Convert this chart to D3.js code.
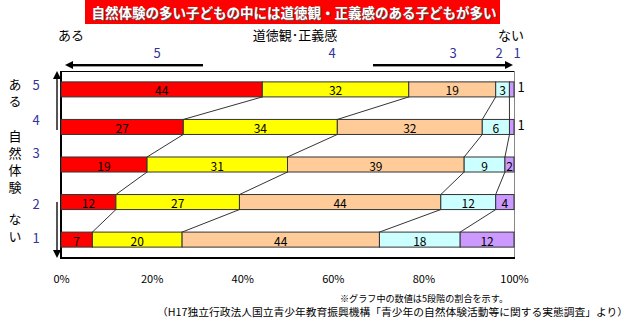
<!DOCTYPE html>
<html lang="ja">
<head>
<meta charset="utf-8">
<script src="https://cdn.jsdelivr.net/npm/d3@7"></script>
<style>
  html, body { margin: 0; padding: 0; background: #fff; }
  svg { display: block; font-family: "Noto Sans CJK JP", "Noto Sans", sans-serif; }
</style>
</head>
<body>
<svg id="chart" width="644" height="329"></svg>
<script>
// 自然体験の段階（5=多い … 1=少ない）ごとの道徳観・正義感の割合（%）
const categories = ["5", "4", "3", "2", "1"];
const levels = ["5", "4", "3", "2", "1"];
const level5 = [44, 27, 19, 12, 7];
const level4 = [32, 34, 31, 27, 20];
const level3 = [19, 32, 39, 44, 44];
const level2 = [3, 6, 9, 12, 18];
const level1 = [1, 1, 2, 4, 12];
const xTicks = [0, 0.2, 0.4, 0.6, 0.8, 1];

const seriesValues = [level5, level4, level3, level2, level1];
const colors = ["#FF0000", "#FFFF00", "#FFCC99", "#CCFFFF", "#CC99FF"];

const rows = categories.map((c, i) => {
  const r = { cat: c };
  levels.forEach((l, j) => { r[l] = seriesValues[j][i]; });
  return r;
});

const stack = d3.stack().keys(levels).offset(d3.stackOffsetExpand);
const series = stack(rows);

const svg = d3.select("#chart");

const x = d3.scaleLinear().domain([0, 1]).range([61, 514]);
const y = d3.scaleBand().domain(categories).range([71, 258])
  .paddingInner(0.6).paddingOuter(0.29);

// タイトル
svg.append("rect").attr("x", 85).attr("y", 0).attr("width", 415).attr("height", 24)
  .attr("fill", "#FF0000");
const titleText = "自然体験の多い子どもの中には道徳観・正義感のある子どもが多い";
svg.append("text").attr("x", 294).attr("y", 18).attr("text-anchor", "middle")
  .attr("font-size", 13.5).attr("font-weight", "bold").attr("fill", "#555")
  .attr("dx", 1).attr("dy", 1).text(titleText);
svg.append("text").attr("x", 294).attr("y", 18).attr("text-anchor", "middle")
  .attr("font-size", 13.5).attr("font-weight", "bold").attr("fill", "#fff")
  .text(titleText);

// 上部の凡例見出し
const head = svg.append("g").attr("font-size", 13).attr("fill", "#000");
head.append("text").attr("x", 58).attr("y", 40).text("ある");
head.append("text").attr("x", 295).attr("y", 40).attr("text-anchor", "middle").text("道徳観･正義感");
head.append("text").attr("x", 498).attr("y", 40).text("ない");

// 道徳観・正義感の段階番号
const levelPos = [157, 332, 453, 499, 517];
svg.append("g").attr("font-size", 13).attr("fill", "#333399").attr("text-anchor", "middle")
  .selectAll("text").data(levels).join("text")
  .attr("x", (d, i) => levelPos[i]).attr("y", 58).text(d => d);

// 横向きの矢印
function hArrow(x1, x2, yy) {
  const dir = Math.sign(x2 - x1);
  svg.append("line").attr("x1", x1).attr("x2", x2 - dir * 7).attr("y1", yy).attr("y2", yy)
    .attr("stroke", "#000").attr("stroke-width", 2);
  svg.append("line").attr("x1", x1).attr("x2", x2 - dir * 7).attr("y1", yy + 1.5).attr("y2", yy + 1.5)
    .attr("stroke", "#999").attr("stroke-width", 1);
  svg.append("path")
    .attr("d", `M${x2},${yy} L${x2 - dir * 8},${yy - 4} L${x2 - dir * 8},${yy + 4} Z`)
    .attr("fill", "#000");
}
hArrow(203, 65, 65);
hArrow(373, 513, 65);

// 縦向きの矢印
function vArrow(y1, y2, xx) {
  const dir = Math.sign(y2 - y1);
  svg.append("line").attr("x1", xx).attr("x2", xx).attr("y1", y1).attr("y2", y2 - dir * 6)
    .attr("stroke", "#555").attr("stroke-width", 2);
  svg.append("path")
    .attr("d", `M${xx},${y2} L${xx - 4},${y2 - dir * 8} L${xx + 4},${y2 - dir * 8} Z`)
    .attr("fill", "#000");
}
vArrow(130, 71, 57);
vArrow(202, 258, 57);

// 縦書きの見出し
const side = svg.append("g").attr("font-size", 13).attr("fill", "#000")
  .style("writing-mode", "vertical-rl").style("letter-spacing", "4px");
[["ある", 78], ["自然体験", 130], ["ない", 213]]
  .forEach(([t, yy]) => side.append("text").attr("x", 15).attr("y", yy).text(t));
const catPos = [90, 125, 158, 209, 243];
svg.append("g").attr("font-size", 13).attr("fill", "#333399").attr("text-anchor", "middle")
  .selectAll("text").data(categories).join("text")
  .attr("x", 36).attr("y", (d, i) => catPos[i]).text(d => d);

// プロット枠
svg.append("line").attr("x1", 61).attr("x2", 514).attr("y1", 71.5).attr("y2", 71.5).attr("stroke", "#000");
svg.append("line").attr("x1", 514.5).attr("x2", 514.5).attr("y1", 71).attr("y2", 258).attr("stroke", "#888");
svg.append("line").attr("x1", 61).attr("x2", 61).attr("y1", 71).attr("y2", 259).attr("stroke", "#000").attr("stroke-width", 2);
svg.append("line").attr("x1", 60).attr("x2", 515).attr("y1", 258).attr("y2", 258).attr("stroke", "#000").attr("stroke-width", 2);

// 区切りをつなぐ線
const links = svg.append("g").attr("stroke", "#000").attr("stroke-width", 0.8);
for (let k = 0; k < series.length - 1; k++) {
  for (let i = 0; i < categories.length - 1; i++) {
    const a = series[k][i][1], b = series[k][i + 1][1];
    links.append("line")
      .attr("x1", x(a)).attr("y1", y(categories[i]) + y.bandwidth())
      .attr("x2", x(b)).attr("y2", y(categories[i + 1]));
  }
}

// 帯グラフ
const bars = svg.append("g");
series.forEach((s, k) => {
  bars.append("g").attr("fill", colors[k])
    .selectAll("rect").data(s).join("rect")
    .attr("x", d => x(d[0]))
    .attr("y", d => y(d.data.cat))
    .attr("width", d => x(d[1]) - x(d[0]))
    .attr("height", y.bandwidth())
    .attr("stroke", "#333").attr("stroke-width", 1);
});

// 数値ラベル
const labels = svg.append("g").attr("font-size", 12).attr("fill", "#000").attr("text-anchor", "middle");
series.forEach((s, k) => {
  s.forEach((d, i) => {
    const v = seriesValues[k][i];
    const w = x(d[1]) - x(d[0]);
    const yy = y(d.data.cat) + y.bandwidth() / 2 + 6;
    if (w < 6) {
      labels.append("text").attr("x", x(1) + 7).attr("y", yy - 3).attr("font-size", 13).text(v);
    } else {
      labels.append("text").attr("x", (x(d[0]) + x(d[1])) / 2).attr("y", yy).text(v);
    }
  });
});

// 横軸の目盛り
const xAxis = svg.append("g").attr("transform", "translate(0,272)")
  .call(d3.axisBottom(x).tickValues(xTicks).tickSize(0).tickFormat(d3.format(".0%")));
xAxis.select(".domain").remove();
xAxis.selectAll("text").attr("font-size", 11).attr("fill", "#000")
  .attr("font-family", "\"Noto Sans CJK JP\", sans-serif");

// 注記
svg.append("text").attr("x", 340).attr("y", 302).attr("font-size", 9.5)
  .attr("textLength", 168).attr("lengthAdjust", "spacingAndGlyphs")
  .text("※グラフ中の数値は5段階の割合を示す。");
svg.append("text").attr("x", 157).attr("y", 316).attr("font-size", 10)
  .attr("textLength", 471).attr("lengthAdjust", "spacingAndGlyphs")
  .text("（H17独立行政法人国立青少年教育振興機構「青少年の自然体験活動等に関する実態調査」より）");
</script>
</body>
</html>
